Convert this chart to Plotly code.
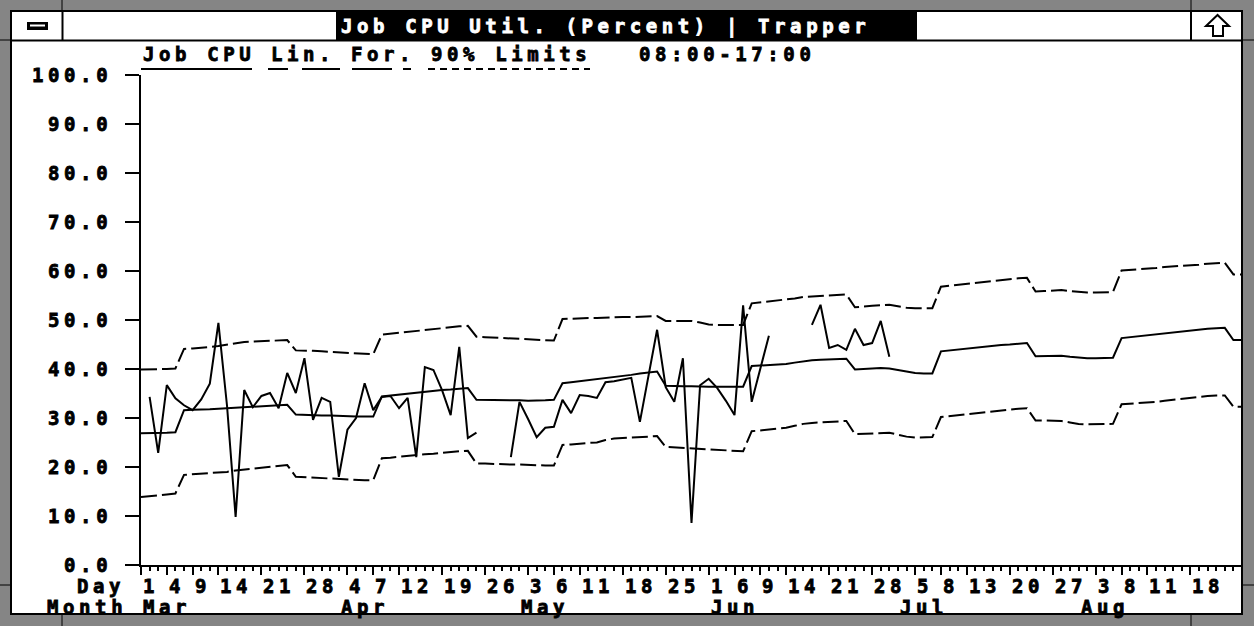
import pandas as pd
import plotly.graph_objects as go

# business days shown on the x axis (weekends skipped)
first_day = "1994-03-01"
last_day = "1994-08-26"

job_cpu = [
    None, 34.3, 22.9, 36.7, 34.0, 32.6, 31.6, 33.8, 37.0, 49.4,
    32.5, 9.8, 35.7, 32.2, 34.5, 35.1, 32.0, 39.2, 35.1, 42.2,
    29.6, 34.1, 33.3, 18.0, 27.6, 30.0, 37.1, 31.6, 34.3, 34.5,
    32.0, 34.1, 22.0, 40.4, 39.8, 35.7, 30.6, 44.5, 25.9, 27.0,
    None, None, None, 22.0, 33.3, 29.8, 26.1, 28.0, 28.2, 33.7,
    31.0, 34.7, 34.5, 34.1, 37.3, 37.5, 37.9, 38.2, 29.2, 38.6,
    48.0, 36.3, 33.3, 42.2, 8.6, 36.7, 38.0, 36.1, 33.5, 30.6,
    53.0, 33.3, 40.0, 46.8, None, None, None, None, 49.0, 53.1,
    44.3, 44.9, 43.9, 48.2, 44.9, 45.3, 49.8, 42.5,
]

lin_forecast = [
    26.9, 26.9, 27.0, 27.0, 27.1,
    31.6, 31.7, 31.7, 31.8, 31.9, 32.0, 32.1, 32.3, 32.4, 32.5, 32.6, 32.6, 32.7,
    30.7, 30.6, 30.6, 30.5, 30.5, 30.4, 30.4, 30.3, 30.3, 30.3,
    34.4, 34.6, 34.8, 34.9, 35.1, 35.3, 35.5, 35.7, 35.8, 36.0, 36.1,
    33.7, 33.7, 33.7, 33.7, 33.6, 33.6, 33.5, 33.5, 33.6, 33.7,
    37.1, 37.3, 37.5, 37.7, 37.9, 38.2, 38.4, 38.6, 38.8, 39.1, 39.3, 39.5,
    36.6, 36.5, 36.5, 36.5, 36.4, 36.4, 36.4, 36.4, 36.4, 36.4,
    40.6, 40.7, 40.8, 40.9, 41.0, 41.3, 41.6, 41.8, 41.9, 42.0, 42.0, 42.1,
    39.9, 40.0, 40.1, 40.2, 40.1, 39.8, 39.4, 39.2, 39.1, 39.1,
    43.6, 43.8, 44.0, 44.2, 44.4, 44.6, 44.8, 44.9, 45.0, 45.2, 45.3,
    42.6, 42.6, 42.7, 42.7, 42.5, 42.3, 42.2, 42.2, 42.2, 42.3,
    46.3, 46.5, 46.7, 46.9, 47.1, 47.3, 47.5, 47.7, 47.9, 48.1, 48.2, 48.3, 48.4,
    45.9, 45.9,
]

upper_limit = [
    39.9, 39.9, 40.0, 40.0, 40.1,
    44.1, 44.2, 44.3, 44.5, 44.7, 45.0, 45.3, 45.5, 45.6, 45.7, 45.8, 45.8, 45.9,
    43.8, 43.8, 43.7, 43.6, 43.5, 43.3, 43.2, 43.1, 43.0, 43.0,
    47.0, 47.2, 47.4, 47.6, 47.8, 47.9, 48.1, 48.3, 48.5, 48.7, 48.8,
    46.6, 46.5, 46.4, 46.3, 46.2, 46.1, 46.0, 45.9, 45.8, 45.8,
    50.2, 50.3, 50.3, 50.4, 50.4, 50.5, 50.5, 50.6, 50.6, 50.7, 50.7, 50.8,
    49.8, 49.8, 49.8, 49.8, 49.5, 49.1, 49.0, 49.0, 49.0, 49.0,
    53.4, 53.6, 53.8, 53.9, 54.1, 54.4, 54.7, 54.8, 54.9, 55.0, 55.1, 55.2,
    52.6, 52.8, 52.9, 53.0, 53.1, 52.8, 52.5, 52.4, 52.4, 52.4,
    56.8, 57.0, 57.1, 57.3, 57.5, 57.7, 57.9, 58.1, 58.3, 58.5, 58.6,
    55.8, 55.9, 56.0, 56.1, 55.9, 55.7, 55.6, 55.6, 55.6, 55.7,
    60.1, 60.2, 60.4, 60.5, 60.6, 60.8, 60.9, 61.0, 61.2, 61.3, 61.5, 61.6, 61.7,
    59.3, 59.3,
]

lower_limit = [
    13.9, 14.0, 14.2, 14.4, 14.6,
    18.4, 18.5, 18.6, 18.8, 18.9, 19.0, 19.3, 19.5, 19.7, 19.9, 20.1, 20.3, 20.4,
    18.0, 17.9, 17.8, 17.7, 17.6, 17.5, 17.4, 17.3, 17.3, 17.3,
    21.8, 21.9, 22.1, 22.3, 22.4, 22.6, 22.7, 22.9, 23.0, 23.2, 23.3,
    20.7, 20.7, 20.6, 20.6, 20.5, 20.5, 20.4, 20.4, 20.3, 20.3,
    24.5, 24.6, 24.8, 24.9, 25.0, 25.5, 25.8, 25.9, 26.0, 26.1, 26.2, 26.3,
    24.1, 24.0, 23.9, 23.8, 23.7, 23.6, 23.5, 23.4, 23.3, 23.2,
    27.3, 27.5, 27.7, 27.9, 28.0, 28.4, 28.8, 29.0, 29.1, 29.2, 29.3, 29.4,
    26.7, 26.8, 26.9, 27.0, 27.0, 26.6, 26.2, 26.0, 26.0, 26.1,
    30.2, 30.4, 30.6, 30.8, 30.9, 31.1, 31.3, 31.5, 31.7, 31.9, 32.0,
    29.5, 29.5, 29.4, 29.4, 29.1, 28.8, 28.7, 28.7, 28.7, 28.8,
    32.8, 32.9, 33.0, 33.2, 33.3, 33.5, 33.7, 33.9, 34.1, 34.4, 34.5, 34.6, 34.6,
    32.3, 32.3,
]

day_labels = [
    "1994-03-01", "1994-03-04", "1994-03-09", "1994-03-14", "1994-03-21",
    "1994-03-28", "1994-04-04", "1994-04-07", "1994-04-12", "1994-04-19",
    "1994-04-26", "1994-05-03", "1994-05-06", "1994-05-11", "1994-05-18",
    "1994-05-25", "1994-06-01", "1994-06-06", "1994-06-09", "1994-06-14",
    "1994-06-21", "1994-06-28", "1994-07-05", "1994-07-08", "1994-07-13",
    "1994-07-20", "1994-07-27", "1994-08-03", "1994-08-08", "1994-08-11",
    "1994-08-18",
]
y_ticks = [0, 10, 20, 30, 40, 50, 60, 70, 80, 90, 100]

title_text = "Job CPU Util. (Percent) | Trapper"
time_window = "08:00-17:00"

days = pd.bdate_range(first_day, last_day)
pos = list(range(len(days)))
job_cpu = job_cpu + [None] * (len(days) - len(job_cpu))

# plot area in page pixels, used to place the window decorations
L, R, T, B = 141, 1242, 75, 565
W, H = 1254, 626


def px(x):
    return (x - L) / (R - L)


def py(y):
    return (B - y) / (B - T)


FONT = "DejaVu Sans Mono"
BOLD = dict(family=FONT, size=19, color="black", weight="bold")


def mono(s, color="black"):
    # wide, heavy, fixed pitch like the old bitmap system font
    return (f'<span style="letter-spacing:4.6px;stroke:{color};'
            f'stroke-width:0.8px">{s}</span>')


def text(s, x, y, anchor="left", color="black"):
    return dict(
        text=mono(s, color), x=px(x), y=py(y), xref="paper", yref="paper",
        xanchor=anchor, yanchor="middle", showarrow=False,
        font=dict(BOLD, color=color),
    )


fig = go.Figure()
line_black = dict(color="black", width=2)
fig.add_trace(go.Scatter(x=pos, y=upper_limit, mode="lines",
                         line=dict(color="black", width=2, dash="16px,5px")))
fig.add_trace(go.Scatter(x=pos, y=lower_limit, mode="lines",
                         line=dict(color="black", width=2, dash="16px,5px")))
fig.add_trace(go.Scatter(x=pos, y=lin_forecast, mode="lines", line=line_black))
fig.add_trace(go.Scatter(x=pos, y=job_cpu, mode="lines", line=line_black))

label_pos = [days.get_loc(pd.Timestamp(d)) for d in day_labels]

annotations = []
for d, p in zip(day_labels, label_pos):
    annotations.append(dict(
        text=mono(str(pd.Timestamp(d).day)), x=p, y=0, xref="x", yref="paper",
        xanchor="left", yanchor="middle", yshift=-21, showarrow=False, font=BOLD,
    ))
month_first = pd.Series(days).groupby(days.to_period("M")).first()
for m in month_first:
    annotations.append(dict(
        text=mono(m.strftime("%b")), x=days.get_loc(m), y=0, xref="x", yref="paper",
        xanchor="left", yanchor="middle", yshift=-42, showarrow=False, font=BOLD,
    ))
annotations.append(text("Day", 127, 586, anchor="right"))
annotations.append(text("Month", 129, 607, anchor="right"))

# legend line and title bar texts
annotations.append(text("Job\u00a0CPU", 141, 54))
annotations.append(text("Lin.", 269, 54))
annotations.append(text("For.", 349, 54))
annotations.append(text("90%\u00a0Limits", 429, 54))
annotations.append(text(time_window, 637, 54))
annotations.append(text(title_text.replace(" ", "\u00a0"), 339, 26.5, color="white"))

GRAY = "#858585"


def rect(x0, y0, x1, y1, fill, width=0):
    return dict(type="rect", xref="paper", yref="paper",
                x0=px(x0), x1=px(x1), y0=py(y0), y1=py(y1),
                fillcolor=fill, line=dict(color="black", width=width), layer="above")


def seg(x0, y0, x1, y1, width=2, dash="solid"):
    return dict(type="line", xref="paper", yref="paper",
                x0=px(x0), x1=px(x1), y0=py(y0), y1=py(y1),
                line=dict(color="black", width=width, dash=dash), layer="above")


shapes = [
    rect(0, 0, 10, H, GRAY), rect(0, 0, W, 10, GRAY),
    rect(1243, 0, W, H, GRAY), rect(0, 615, W, H, GRAY),
    rect(11, 11, 1242, 614, "rgba(0,0,0,0)", 2),
    seg(11, 40.5, 1242, 40.5),
    seg(62.5, 11, 62.5, 40), seg(1191, 11, 1191, 40),
    rect(336, 11, 917, 40, "black"),
    rect(27, 22, 48, 30, "black"), rect(30, 24.5, 45, 26.5, "white"),
    dict(type="path", xref="paper", yref="paper", layer="above",
         path="M {} {} L {} {} L {} {} L {} {} L {} {} L {} {} L {} {} Z".format(
             px(1217.5), py(15), px(1206), py(26), px(1213), py(26),
             px(1213), py(36), px(1223), py(36), px(1223), py(26),
             px(1229), py(26)),
         fillcolor="white", line=dict(color="black", width=2)),
    seg(62, 0, 62, 10, 1), seg(1191, 0, 1191, 10, 1),
    seg(62, 615, 62, 626, 1), seg(1191, 615, 1191, 626, 1),
    seg(0, 40, 10, 40, 1), seg(1243, 40, W, 40, 1),
    seg(0, 585, 10, 585, 1), seg(1243, 585, W, 585, 1),
    # legend underlines
    seg(141, 69, 252, 69),
    seg(268, 69, 411, 69, 2, "20px,14px,38px,12px,40px,11px,8px"),
    seg(428, 69, 590, 69, 2, "7px,5px"),
]

fig.update_layout(
    width=W, height=H,
    margin=dict(l=L, r=W - R, t=T, b=H - B, pad=0),
    paper_bgcolor="white", plot_bgcolor="white",
    showlegend=False,
    annotations=annotations,
    shapes=shapes,
    font=BOLD,
)
fig.update_xaxes(
    range=[0, len(days) - 1], showgrid=False, zeroline=False,
    showline=True, linecolor="black", linewidth=2,
    ticks="outside", tickvals=label_pos, ticktext=[""] * len(label_pos),
    ticklen=8, tickwidth=2, tickcolor="black",
    minor=dict(dtick=1, tick0=0, ticks="outside", ticklen=4, tickwidth=2,
               tickcolor="black", showgrid=False),
    automargin=False,
)
fig.update_yaxes(
    range=[0, 100], showgrid=False, zeroline=False,
    showline=True, linecolor="black", linewidth=2,
    ticks="outside", ticklen=14, tickwidth=2, tickcolor="black",
    tickvals=y_ticks, ticktext=[mono(f"{v:.1f}") for v in y_ticks],
    tickfont=BOLD, ticklabelstandoff=9, automargin=False,
)

fig.write_html("out.html", config={"displayModeBar": False},
               post_script="document.body.style.margin='0';")
